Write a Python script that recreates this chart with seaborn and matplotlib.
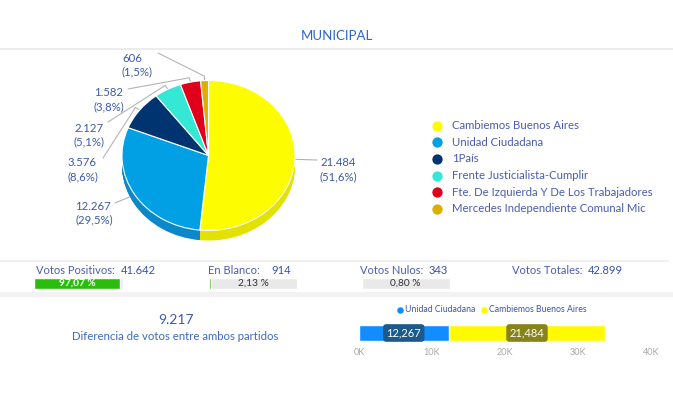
import numpy as np
import matplotlib
matplotlib.use("Agg")
import matplotlib.pyplot as plt
from matplotlib.patches import Rectangle
import seaborn as sns
import pandas as pd

# ---------------- data ----------------
title = "MUNICIPAL"
parties = ["Cambiemos Buenos Aires", "Unidad Ciudadana", "1País",
           "Frente Justicialista-Cumplir",
           "Fte. De Izquierda Y De Los Trabajadores",
           "Mercedes Independiente Comunal Mic"]
votes = [21484, 12267, 3576, 2127, 1582, 606]
colors = ["#fdfc00", "#019fe3", "#003471", "#35e8d6", "#e1001b", "#dcae00"]
side_colors = ["#e2e100", "#0a88c9", "#002a5c", "#2cc6b6", "#b80016", "#b89000"]

stat_names = ["Votos Positivos:", "En Blanco:", "Votos Nulos:", "Votos Totales:"]
stat_values = [41642, 914, 343, 42899]

diff_label = "Diferencia de votos entre ambos partidos"

duel_parties = ["Unidad Ciudadana", "Cambiemos Buenos Aires"]
duel_votes = [12267, 21484]
duel_colors = ["#118dff", "#fffa00"]
duel_label_bg = ["#1d5a8c", "#878219"]
duel_ticks = [0, 10000, 20000, 30000, 40000]
duel_tick_labels = ["0K", "10K", "20K", "30K", "40K"]

# ---------------- style ----------------
sns.set_style("white")
plt.rcParams["font.family"] = ["Lato", "DejaVu Sans"]

W, H = 673, 420
fig = plt.figure(figsize=(W / 100, H / 100), dpi=100)
fig.patch.set_facecolor("white")

def fbox(x0, y0, x1, y1):
    return [x0 / W, 1 - y1 / H, (x1 - x0) / W, (y1 - y0) / H]

def es_int(v):
    return f"{v:,}".replace(",", ".")

def es_dec(v, n):
    return f"{v:.{n}f}".replace(".", ",")

TXT = "#3d5bab"
LBL = "#4a5db0"

# background / layout axes in pixel coordinates
bg = fig.add_axes([0, 0, 1, 1])
bg.set_xlim(0, W)
bg.set_ylim(H, 0)
bg.axis("off")

bg.text(337, 36, title, ha="center", va="center", fontsize=9.5, color="#2a66c4")
bg.plot([0, W], [49, 49], color="#ececec", lw=1.5)
bg.plot([0, 668], [261, 261], color="#f0f0f0", lw=1.5)
bg.add_patch(Rectangle((0, 292), W, 5, color="#f2f2f2", lw=0))

# ---------------- pie ----------------
cx, cy, rx, ry = 208.5, 155.5, 86.5, 75.0
pax = fig.add_axes(fbox(0, 48, 420, 255))
pax.patch.set_alpha(0)

def to_data(px, py):
    return (px - cx) / rx, (cy - py) / ry

depth = 10 / ry
for d in np.linspace(depth, 0.005, 16):
    pax.pie(votes, colors=side_colors, startangle=90, counterclock=False,
            center=(0, -d), radius=1, wedgeprops=dict(linewidth=0))
pax.pie(votes, colors=colors, startangle=90, counterclock=False,
        wedgeprops=dict(edgecolor="white", linewidth=0.8))
pax.set_aspect("auto")
x0d, _ = to_data(0, 0)
x1d, _ = to_data(420, 0)
_, y0d = to_data(0, 255)
_, y1d = to_data(0, 48)
pax.set_xlim(x0d, x1d)
pax.set_ylim(y0d, y1d)
pax.axis("off")

total = sum(votes)
fr = np.array(votes) / total
cum = np.concatenate([[0], np.cumsum(fr)])
# label layout (pixel positions): text left x, first line y, line end point
label_layout = [
    (320, 163, (317, 160)),
    (75, 206, (115, 203)),
    (68, 163, (103, 158)),
    (74, 128, (108, 122)),
    (94, 93, (128, 89)),
    (122, 58, (158, 53)),
]
for i, v in enumerate(votes):
    mid = (cum[i] + cum[i + 1]) / 2
    th = np.deg2rad(90 - 360 * mid)
    ax_, ay_ = np.cos(th), np.sin(th)
    ex, ey = 1.06 * ax_, 1.06 * ay_
    tx, ty, (lx, ly) = label_layout[i]
    lxd, lyd = to_data(lx, ly)
    pax.plot([ax_, ex, lxd], [ay_, ey, lyd], color="#b4b4b4", lw=0.8, zorder=0)
    bg.text(tx, ty, es_int(v), ha="left", va="center", fontsize=8.2, color=TXT)
    bg.text(tx, ty + 14, f"({es_dec(100 * fr[i], 1)}%)", ha="left", va="center",
            fontsize=8.2, color=TXT)

# legend
leg_y = [125.5, 142, 159, 175.5, 192, 208.5]
for name, c, y in zip(parties, colors, leg_y):
    bg.scatter([437], [y], s=55, color=c, lw=0)
    bg.text(452, y, name, ha="left", va="center", fontsize=8.2, color=LBL)

# ---------------- stats row ----------------
stat_layout = [(36, 121), (208, 271), (360, 429), (512, 588)]
bar_layout = [(34, 123), (209, 297), (361, 450)]
tot = stat_values[3]
for i, (name, v) in enumerate(zip(stat_names, stat_values)):
    lx, vx = stat_layout[i]
    bg.text(lx, 270, name, ha="left", va="center", fontsize=8, color=LBL)
    bg.text(vx, 270, es_int(v), ha="left", va="center", fontsize=8, color="#3552a8")
for i in range(3):
    bx0, bx1 = bar_layout[i]
    sax = fig.add_axes(fbox(bx0, 278, bx1, 289))
    sax.patch.set_alpha(0)
    pct = 100 * stat_values[i] / tot
    df = pd.DataFrame({"k": ["p"], "bgv": [100.0], "v": [pct]})
    sns.barplot(data=df, x="bgv", y="k", orient="h", color="#e9e9e9",
                width=1, ax=sax, saturation=1)
    sns.barplot(data=df, x="v", y="k", orient="h", color="#2bbd0c",
                width=1, ax=sax, saturation=1)
    sax.set_xlim(0, 100)
    sax.set_ylim(0.5, -0.5)
    sax.axis("off")
    sax.text(50 if i else pct / 2, 0, f"{es_dec(pct, 2)} %", ha="center", va="center",
             fontsize=7.3, color="white" if i == 0 else "#333333",
             fontweight="bold" if i == 0 else "normal")

# ---------------- difference ----------------
diff_value = duel_votes[1] - duel_votes[0]
bg.text(176, 320, es_int(diff_value), ha="center", va="center", fontsize=10, color="#3d5bab")
bg.text(175, 337, diff_label, ha="center", va="center", fontsize=8.2, color="#3d6ac0")

# ---------------- duel stacked bar ----------------
dax = fig.add_axes(fbox(359, 325, 651, 341))
dax.patch.set_alpha(0)
ddf = pd.DataFrame({"k": ["a"], "total": [sum(duel_votes)], "first": [duel_votes[0]]})
sns.barplot(data=ddf, x="total", y="k", orient="h", color=duel_colors[1],
            width=1, ax=dax, saturation=1)
sns.barplot(data=ddf, x="first", y="k", orient="h", color=duel_colors[0],
            width=1, ax=dax, saturation=1)
dax.set_xlim(duel_ticks[0], duel_ticks[-1])
dax.set_ylim(0.5, -0.5)
for s in dax.spines.values():
    s.set_visible(False)
dax.set_yticks([])
dax.set_ylabel("")
dax.set_xlabel("")
dax.set_xticks(duel_ticks)
dax.set_xticklabels(duel_tick_labels)
dax.tick_params(axis="x", length=0, pad=5, labelsize=6.5, labelcolor="#a8a8a8")
left = 0
for v, c in zip(duel_votes, duel_label_bg):
    dax.text(left + v / 2, 0, f"{v:,}", ha="center", va="center", fontsize=8,
             color="white",
             bbox=dict(boxstyle="round,pad=0.3,rounding_size=0.3", fc=c, ec="none"))
    left += v

# duel legend
leg_items = [(400, 405), (484, 489)]
for (mx, tx), name, c in zip(leg_items, duel_parties, duel_colors):
    bg.scatter([mx], [310], s=22, color=c, lw=0)
    bg.text(tx, 310, name, ha="left", va="center", fontsize=6.3, color="#3d55b0")

fig.savefig("out.png", dpi=100)
